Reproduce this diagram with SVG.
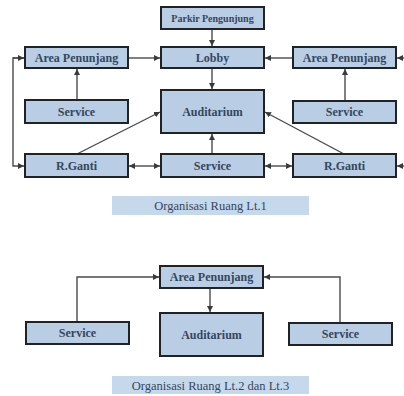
<svg xmlns="http://www.w3.org/2000/svg" width="404" height="396" viewBox="0 0 404 396">
<style>
.box{fill:#b9cde5;stroke:#1f2328;stroke-width:2}
.t{font-family:"Liberation Serif","DejaVu Serif",serif;font-size:12px;fill:#34475c;text-anchor:middle;font-weight:bold}
.ts{font-size:10px}
.cap{fill:#c6d8ec}
.ct{font-family:"Liberation Serif","DejaVu Serif",serif;font-size:12.5px;fill:#34475c;text-anchor:middle}
.c{fill:none;stroke:#4a4a4a;stroke-width:1.4}
</style>
<defs>
<marker id="a" viewBox="0 0 10 10" refX="10" refY="5" markerWidth="6" markerHeight="6" orient="auto-start-reverse" markerUnits="userSpaceOnUse"><path d="M0,0L10,5L0,10z" fill="#3a3a3a"/></marker>
</defs>
<rect width="404" height="396" fill="#fff"/>
<g id="connectors">
<path class="c" d="M212,29V46" marker-end="url(#a)"/>
<path class="c" d="M212,68V89" marker-end="url(#a)"/>
<path class="c" d="M212,154V134" marker-end="url(#a)"/>
<path class="c" d="M128,58H160" marker-end="url(#a)"/>
<path class="c" d="M293,58H265" marker-end="url(#a)"/>
<path class="c" d="M77,100V69" marker-end="url(#a)"/>
<path class="c" d="M345,101V69" marker-end="url(#a)"/>
<path class="c" d="M77,154L160,112" marker-end="url(#a)"/>
<path class="c" d="M344,154L265,112" marker-end="url(#a)"/>
<path class="c" d="M129,166H160" marker-start="url(#a)" marker-end="url(#a)"/>
<path class="c" d="M265,166H292" marker-start="url(#a)" marker-end="url(#a)"/>
<path class="c" d="M24,58H13V166H24" marker-end="url(#a)"/>
<path class="c" d="M13,58H24" marker-end="url(#a)"/>
<path class="c" d="M405,58H397" marker-end="url(#a)"/>
<path class="c" d="M405,166H397" marker-end="url(#a)"/>
<path class="c" d="M77,322V277H159" marker-end="url(#a)"/>
<path class="c" d="M340,323V277H264" marker-end="url(#a)"/>
<path class="c" d="M210,288V312" marker-end="url(#a)"/>
</g>
<g id="parkir"><rect class="box" x="161" y="7" width="103" height="22"/><text class="t ts" x="212.5" y="21.5">Parkir Pengunjung</text></g>
<g id="lobby"><rect class="box" x="161" y="47" width="103" height="21"/><text class="t" x="212.5" y="62">Lobby</text></g>
<g id="auditarium1"><rect class="box" x="161" y="90" width="103" height="43"/><text class="t" x="212.5" y="116">Auditarium</text></g>
<g id="service-mid"><rect class="box" x="161" y="154" width="103" height="23"/><text class="t" x="212.5" y="170">Service</text></g>
<g id="area-left"><rect class="box" x="25" y="47" width="103" height="21"/><text class="t" x="76.5" y="62">Area Penunjang</text></g>
<g id="service-left"><rect class="box" x="25" y="100" width="103" height="23"/><text class="t" x="76.5" y="116">Service</text></g>
<g id="rganti-left"><rect class="box" x="25" y="154" width="103" height="23"/><text class="t" x="76.5" y="170">R.Ganti</text></g>
<g id="area-right"><rect class="box" x="293" y="47" width="103" height="21"/><text class="t" x="344.5" y="62">Area Penunjang</text></g>
<g id="service-right"><rect class="box" x="293" y="101" width="103" height="22"/><text class="t" x="344.5" y="116">Service</text></g>
<g id="rganti-right"><rect class="box" x="293" y="154" width="103" height="23"/><text class="t" x="344.5" y="170">R.Ganti</text></g>
<g id="caption1"><rect class="cap" x="112" y="196" width="197" height="19"/><text class="ct" x="210.5" y="210">Organisasi Ruang Lt.1</text></g>
<g id="area2"><rect class="box" x="160" y="266" width="103" height="22"/><text class="t" x="211.5" y="281">Area Penunjang</text></g>
<g id="auditarium2"><rect class="box" x="160" y="313" width="103" height="43"/><text class="t" x="211.5" y="339">Auditarium</text></g>
<g id="service2-left"><rect class="box" x="26" y="322" width="103" height="22"/><text class="t" x="77.5" y="337">Service</text></g>
<g id="service2-right"><rect class="box" x="289" y="323" width="103" height="22"/><text class="t" x="340.5" y="338">Service</text></g>
<g id="caption2"><rect class="cap" x="112" y="376" width="197" height="18"/><text class="ct" x="210.5" y="389.5">Organisasi Ruang Lt.2 dan Lt.3</text></g>
</svg>
